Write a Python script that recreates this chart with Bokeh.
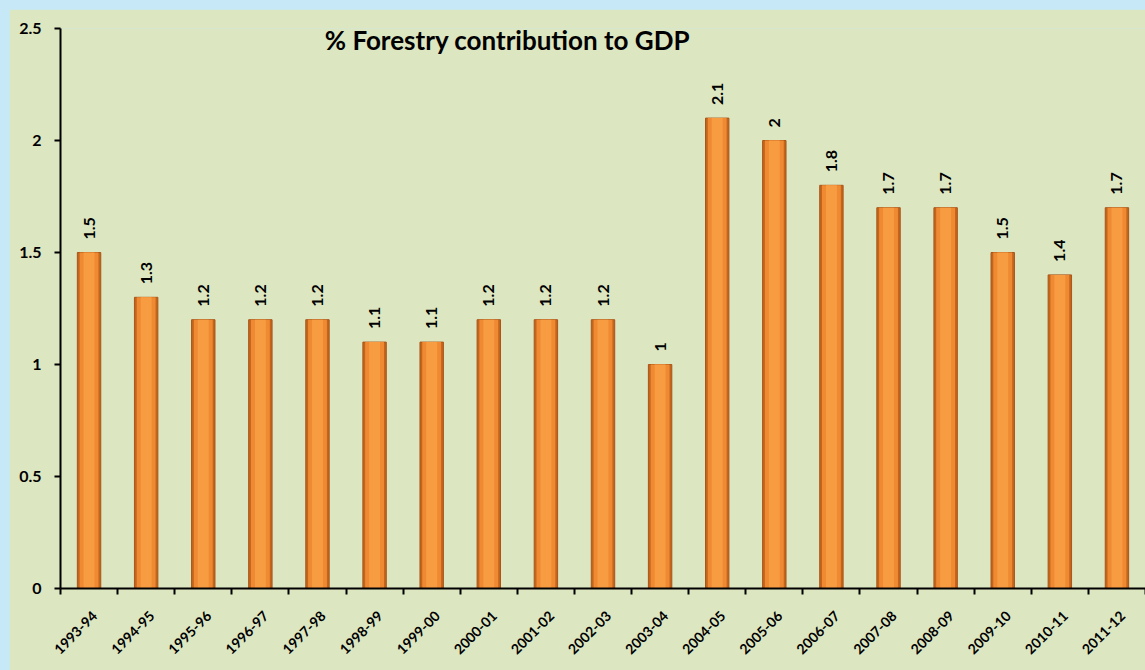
import math
from bokeh.plotting import figure
from bokeh.models import (ColumnDataSource, Range1d, LinearAxis,
                          FixedTicker, Label)
from bokeh.core.properties import value
from bokeh.embed import file_html
from bokeh.resources import INLINE

years = ["1993-94", "1994-95", "1995-96", "1996-97", "1997-98", "1998-99",
         "1999-00", "2000-01", "2001-02", "2002-03", "2003-04", "2004-05",
         "2005-06", "2006-07", "2007-08", "2008-09", "2009-10", "2010-11",
         "2011-12"]
share = [1.5, 1.3, 1.2, 1.2, 1.2, 1.1, 1.1, 1.2, 1.2, 1.2, 1.0, 2.1,
         2.0, 1.8, 1.7, 1.7, 1.5, 1.4, 1.7]
share_labels = ["1.5", "1.3", "1.2", "1.2", "1.2", "1.1", "1.1", "1.2", "1.2",
                "1.2", "1", "2.1", "2", "1.8", "1.7", "1.7", "1.5", "1.4", "1.7"]
y_ticks = [0, 0.5, 1, 1.5, 2, 2.5]
title_text = "% Forestry contribution to GDP"

FONT = "Lato"
BG = "#dce6c1"

n = len(years)
centers = [i + 0.5 for i in range(n)]   # category slot centres
label_pos = [c + 0.1 for c in centers]  # rotated labels end slightly right of centre
src = ColumnDataSource(dict(x=centers, year=years, share=share, lab=share_labels))

p = figure(width=1136, height=661, x_range=Range1d(0, n), y_range=Range1d(0, 2.5),
           output_backend="svg", toolbar_location=None, x_axis_location=None,
           min_border_left=51, min_border_right=0, min_border_top=19,
           min_border_bottom=82)
p.background_fill_color = BG
p.border_fill_color = BG
p.outline_line_color = None
p.xgrid.grid_line_color = None
p.ygrid.grid_line_color = None

# y axis
ya = p.yaxis[0]
ya.ticker = FixedTicker(ticks=y_ticks)
ya.major_label_overrides = {2.5: "2.5", 2: "2", 1.5: "1.5", 1: "1", 0.5: "0.5", 0: "0"}
ya.axis_line_color = "black"
ya.axis_line_width = 2
ya.major_tick_line_color = "black"
ya.major_tick_line_width = 2
ya.major_tick_in = 0
ya.major_tick_out = 6
ya.minor_tick_line_color = None
ya.major_label_text_font = FONT
ya.major_label_text_font_style = "bold"
ya.major_label_text_font_size = "16px"
ya.major_label_text_color = "black"
ya.major_label_standoff = 13

# x axis: tick marks at category edges
edge_ticks = list(range(n + 1))
tick_axis = LinearAxis(ticker=FixedTicker(ticks=edge_ticks),
                       major_label_overrides={t: "" for t in edge_ticks})
tick_axis.axis_line_color = "black"
tick_axis.axis_line_width = 2
tick_axis.major_tick_line_color = "black"
tick_axis.major_tick_line_width = 2
tick_axis.major_tick_in = 0
tick_axis.major_tick_out = 6
tick_axis.minor_tick_line_color = None
tick_axis.major_label_standoff = 0
p.add_layout(tick_axis, "below")

# x axis: category labels
label_axis = LinearAxis(ticker=FixedTicker(ticks=label_pos),
                        major_label_overrides={c: y for c, y in zip(label_pos, years)})
label_axis.axis_line_color = None
label_axis.major_tick_line_color = None
label_axis.minor_tick_line_color = None
label_axis.major_tick_out = 0
label_axis.major_tick_in = 0
label_axis.major_label_orientation = math.pi / 4
label_axis.major_label_text_font = FONT
label_axis.major_label_text_font_style = "bold"
label_axis.major_label_text_font_size = "14px"
label_axis.major_label_text_color = "black"
label_axis.major_label_standoff = 19
p.add_layout(label_axis, "below")

# bars (layered to mimic the shaded look)
p.vbar(x="x", top="share", bottom=0, width=0.41, source=src,
       fill_color="#c4651c", line_color="#a9561a", line_width=1)
p.vbar(x="x", top="share", bottom=0, width=0.33, source=src,
       fill_color="#ef8a33", line_color=None)
p.vbar(x="x", top="share", bottom=0, width=0.19, source=src,
       fill_color="#f89c42", line_color=None)

# value labels
p.text(x="x", y="share", text="lab", source=src, angle=math.pi / 2,
       text_align="left", text_baseline="middle", y_offset=-13,
       text_font=value(FONT), text_font_style="bold", text_font_size="16px",
       text_color="black")

title = Label(x=447, y=549, x_units="screen", y_units="screen", text=title_text,
              text_align="center", text_baseline="middle",
              text_font=FONT, text_font_style="bold", text_font_size="26px",
              text_color="black")
p.add_layout(title)

html = file_html(p, INLINE)
html = html.replace("</head>",
                    "<style>body{background-color:#c6e8f7;padding:9px 0 0 9px;}</style></head>", 1)
open("out.html", "w").write(html)
